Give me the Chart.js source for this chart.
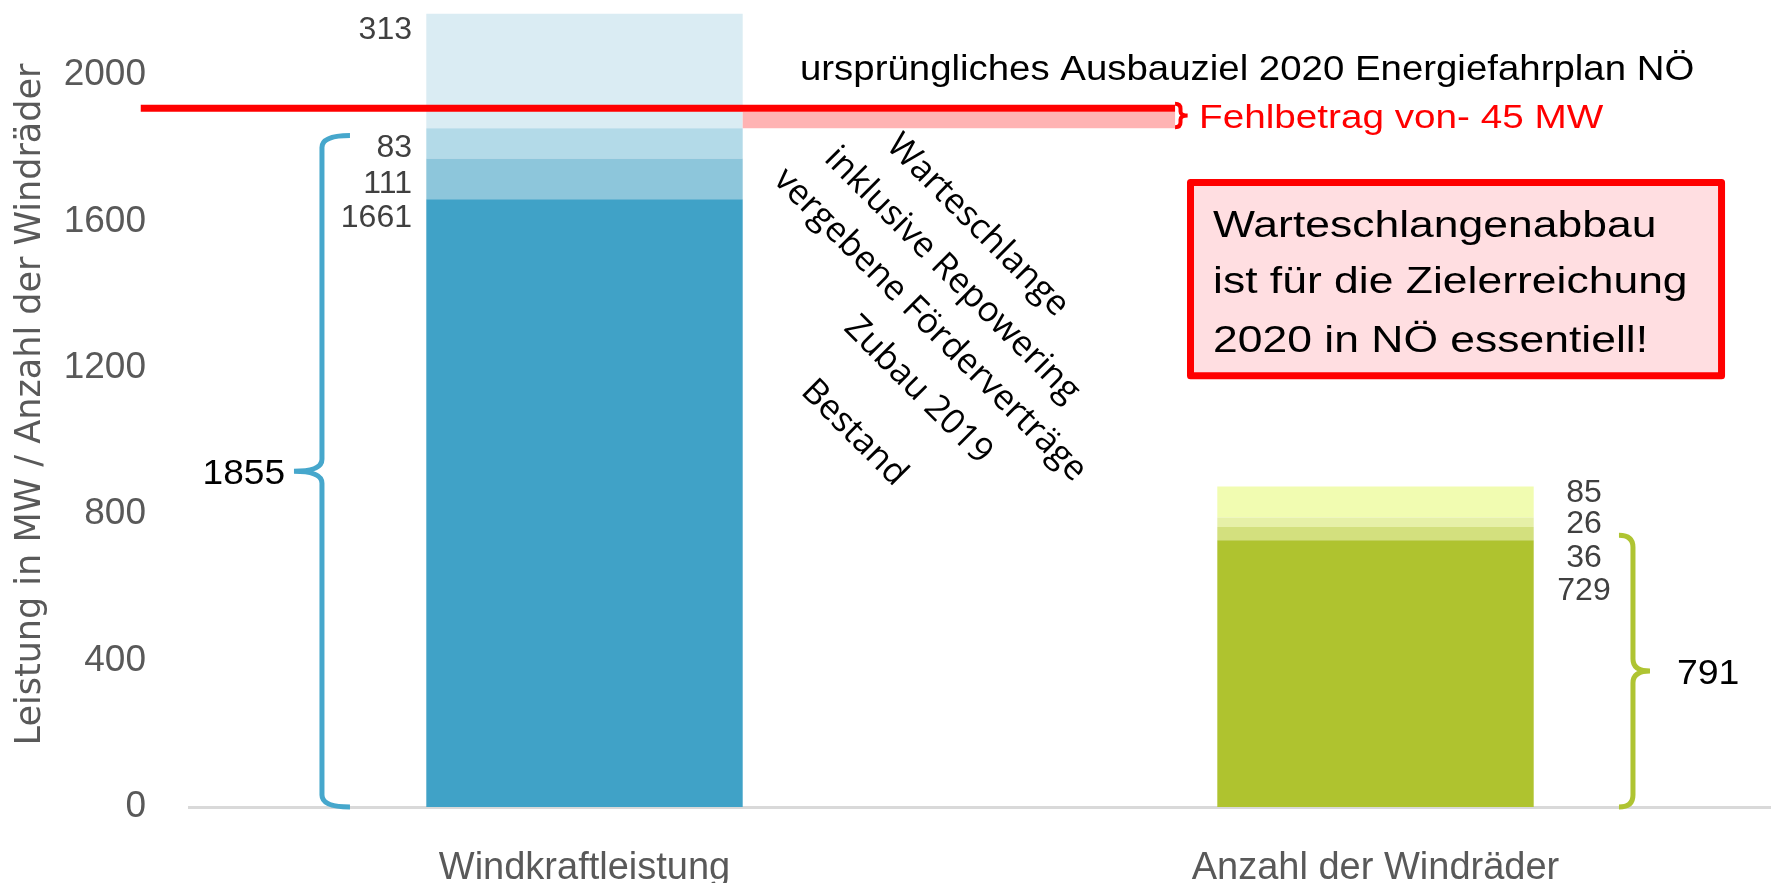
<!DOCTYPE html>
<html>
<head>
<meta charset="utf-8">
<script src="https://cdn.jsdelivr.net/npm/chart.js@4.4.1/dist/chart.umd.min.js"></script>
<style>
  body { margin: 0; background: #fff; }
  .wrap { width: 1771px; height: 883px; }
</style>
</head>
<body>
<div class="wrap"><canvas id="myChart"></canvas></div>
<script>
// values
const categories = ["Windkraftleistung", "Anzahl der Windräder"];
const bestand = [1661, 729];
const zubau2019 = [111, 36];
const foerdervertraege = [83, 26];
const warteschlange = [313, 85];
const summen = [1855, 791];
const yTicks = [0, 400, 800, 1200, 1600, 2000];
const ausbauziel = 1900;
const fehlbetrag = 45;
const layerNames = ["Bestand", "Zubau 2019", "vergebene Förderverträge", "Warteschlange inklusive Repowering"];
const rotatedLabels = ["Warteschlange", "inklusive Repowering", "vergebene Förderverträge", "Zubau 2019", "Bestand"];

const blues = ["#40A2C7", "#8DC6DB", "#B3DAE8", "#DAECF3"];
const greens = ["#AFC32F", "#D3E07E", "#E6F0A8", "#F1FCB1"];

function txt(ctx, s, x, y, o) {
  ctx.save();
  ctx.font = (o.size || 32) + "px " + (o.family || "'Liberation Sans', Arial, sans-serif");
  ctx.fillStyle = o.color || "#000";
  ctx.textAlign = o.align || "left";
  ctx.textBaseline = o.base || "alphabetic";
  ctx.translate(x, y);
  if (o.rot) ctx.rotate(o.rot);
  ctx.scale(o.sx || 1, 1);
  ctx.fillText(s, 0, 0);
  ctx.restore();
}

function brace(ctx, xLine, xEnd, xTip, yTop, yBot, color) {
  const r = 12;
  const yMid = (yTop + yBot) / 2;
  ctx.save();
  ctx.strokeStyle = color;
  ctx.lineWidth = 5;
  ctx.beginPath();
  ctx.moveTo(xEnd, yTop);
  ctx.quadraticCurveTo(xLine, yTop, xLine, yTop + r);
  ctx.lineTo(xLine, yMid - r);
  ctx.quadraticCurveTo(xLine, yMid, xTip, yMid);
  ctx.quadraticCurveTo(xLine, yMid, xLine, yMid + r);
  ctx.lineTo(xLine, yBot - r);
  ctx.quadraticCurveTo(xLine, yBot, xEnd, yBot);
  ctx.stroke();
  ctx.restore();
}

const overlay = {
  id: "overlay",
  afterDatasetsDraw(chart) {
    const ctx = chart.ctx;
    const x = chart.scales.x;
    const y = chart.scales.y;
    const catW = x.getPixelForValue(1) - x.getPixelForValue(0);
    const px = (i, f) => x.getPixelForValue(i) + f * catW;
    const py = (v) => y.getPixelForValue(v);

    // gap to the target (Fehlbetrag)
    ctx.fillStyle = "#FFB3B3";
    ctx.fillRect(px(0, 0.2), py(ausbauziel), px(0, 0.7466) - px(0, 0.2), py(ausbauziel - fehlbetrag) - py(ausbauziel));

    // target line
    ctx.strokeStyle = "#FF0000";
    ctx.lineWidth = 7;
    ctx.beginPath();
    ctx.moveTo(px(0, -0.561), py(ausbauziel) - 3.5);
    ctx.lineTo(px(0, 0.7466), py(ausbauziel) - 3.5);
    ctx.stroke();

    // small red brace
    ctx.lineWidth = 4;
    const bt = py(ausbauziel) - 8, bb = py(ausbauziel - fehlbetrag) - 1, bm = (bt + bb) / 2;
    const bl = px(0, 0.7466), bx = px(0, 0.7535), bT = px(0, 0.7625);
    ctx.beginPath();
    ctx.moveTo(bl, bt);
    ctx.quadraticCurveTo(bx, bt, bx, bt + 5);
    ctx.lineTo(bx, bm - 4);
    ctx.quadraticCurveTo(bx, bm, bT, bm);
    ctx.quadraticCurveTo(bx, bm, bx, bm + 4);
    ctx.lineTo(bx, bb - 5);
    ctx.quadraticCurveTo(bx, bb, bl, bb);
    ctx.stroke();

    txt(ctx, "Fehlbetrag von- " + fehlbetrag + " MW", px(0, 0.777), py(ausbauziel - fehlbetrag), { size: 32.5, sx: 1.19, color: "#FF0000" });
    txt(ctx, "ursprüngliches Ausbauziel 2020 Energiefahrplan NÖ", px(0, 0.2724), py(1986), { size: 35, sx: 1.097 });

    // data labels
    const nudge0 = [27.6, 34.3, 28.6, 24.8];
    const nudge1 = [59.8, 39.7, 15.8, 15.9];
    chart.data.datasets.forEach((ds, k) => {
      const meta = chart.getDatasetMeta(k);
      txt(ctx, String(ds.data[0]), px(0, -0.2181), meta.data[0].y + nudge0[k], { size: 32, color: "#404040", align: "right" });
      txt(ctx, String(ds.data[1]), px(1, 0.2636), meta.data[1].y + nudge1[k], { size: 32, color: "#404040", align: "center" });
    });

    // braces with sums
    const t0 = py(1835), b0 = py(0);
    brace(ctx, px(0, -0.3319), px(0, -0.2965), px(0, -0.3673), t0, b0, "#46A7CC");
    txt(ctx, String(summen[0]), px(0, -0.3786), (t0 + b0) / 2 + 13, { size: 35, sx: 1.06, align: "right" });
    const t1 = py(743), b1 = py(0);
    brace(ctx, px(1, 0.3255), px(1, 0.3078), px(1, 0.347), t1, b1, "#AFC432");
    txt(ctx, String(summen[1]), px(1, 0.3811), (t1 + b1) / 2 + 13, { size: 35, sx: 1.07 });

    // rotated layer names
    const rx = [0.4968, 0.4646, 0.4368, 0.4216, 0.3407];
    const ry = [1589, 1454, 1317, 1139, 1022];
    rotatedLabels.forEach((s, i) => {
      txt(ctx, s, px(0, rx[i]), py(ry[i]), { size: 35, family: "'Open Sans', sans-serif", align: "center", base: "middle", rot: Math.PI / 4 });
    });

    // note box
    const l = px(1, -0.2383), r = px(1, 0.4419), t = py(1716), b = py(1169);
    ctx.fillStyle = "#FFDEE1";
    ctx.fillRect(l + 3.5, t + 3.5, r - l - 7, b - t - 7);
    ctx.strokeStyle = "#FF0000";
    ctx.lineWidth = 7;
    ctx.lineJoin = "round";
    ctx.strokeRect(l + 3.5, t + 3.5, r - l - 7, b - t - 7);
    const lines = ["Warteschlangenabbau", "ist für die Zielerreichung", "2020 in NÖ essentiell!"];
    const base = [1557, 1404, 1243];
    lines.forEach((s, i) => txt(ctx, s, px(1, -0.2054), py(base[i]), { size: 37.7, sx: 1.18 }));
  }
};

const ctx = document.getElementById("myChart");

new Chart(ctx, {
  type: "bar",
  data: {
    labels: categories,
    datasets: [bestand, zubau2019, foerdervertraege, warteschlange].map((d, k) => ({
      label: layerNames[k],
      data: d,
      backgroundColor: [blues[k], greens[k]],
      borderWidth: 0,
      barPercentage: 1,
      categoryPercentage: 0.4,
    })),
  },
  options: {
    responsive: true,
    maintainAspectRatio: false,
    animation: false,
    devicePixelRatio: 1,
    layout: { padding: { top: 2, right: 0, left: 0, bottom: 0 } },
    scales: {
      x: {
        stacked: true,
        grid: { display: false, drawTicks: false },
        border: { display: true, color: "#D9D9D9", width: 3 },
        ticks: {
          color: "#595959",
          padding: 39,
          font: { size: 38, family: "'Liberation Sans', Arial, sans-serif" },
        },
        afterFit: function (s) {
          s.height = 76;
        },
      },
      y: {
        stacked: true,
        min: 0,
        max: 2200,
        grid: { display: false, drawTicks: false },
        border: { display: false },
        afterBuildTicks: function (s) {
          s.ticks = yTicks.map((v) => ({ value: v }));
        },
        ticks: {
          color: "#595959",
          padding: 43,
          font: { size: 37, family: "'Liberation Sans', Arial, sans-serif" },
          callback: function (value) {
            return String(value);
          },
        },
        title: {
          display: true,
          text: "Leistung in MW / Anzahl der Windräder",
          color: "#595959",
          padding: { top: 10, bottom: 0 },
          font: { size: 35, family: "'DejaVu Sans', sans-serif" },
        },
        afterFit: function (s) {
          s.width = 189;
          s.paddingTop = 0;
          s.paddingBottom = 0;
        },
      },
    },
    plugins: {
      legend: { display: false },
      tooltip: { enabled: false },
    },
  },
  plugins: [overlay],
});
</script>
</body>
</html>
